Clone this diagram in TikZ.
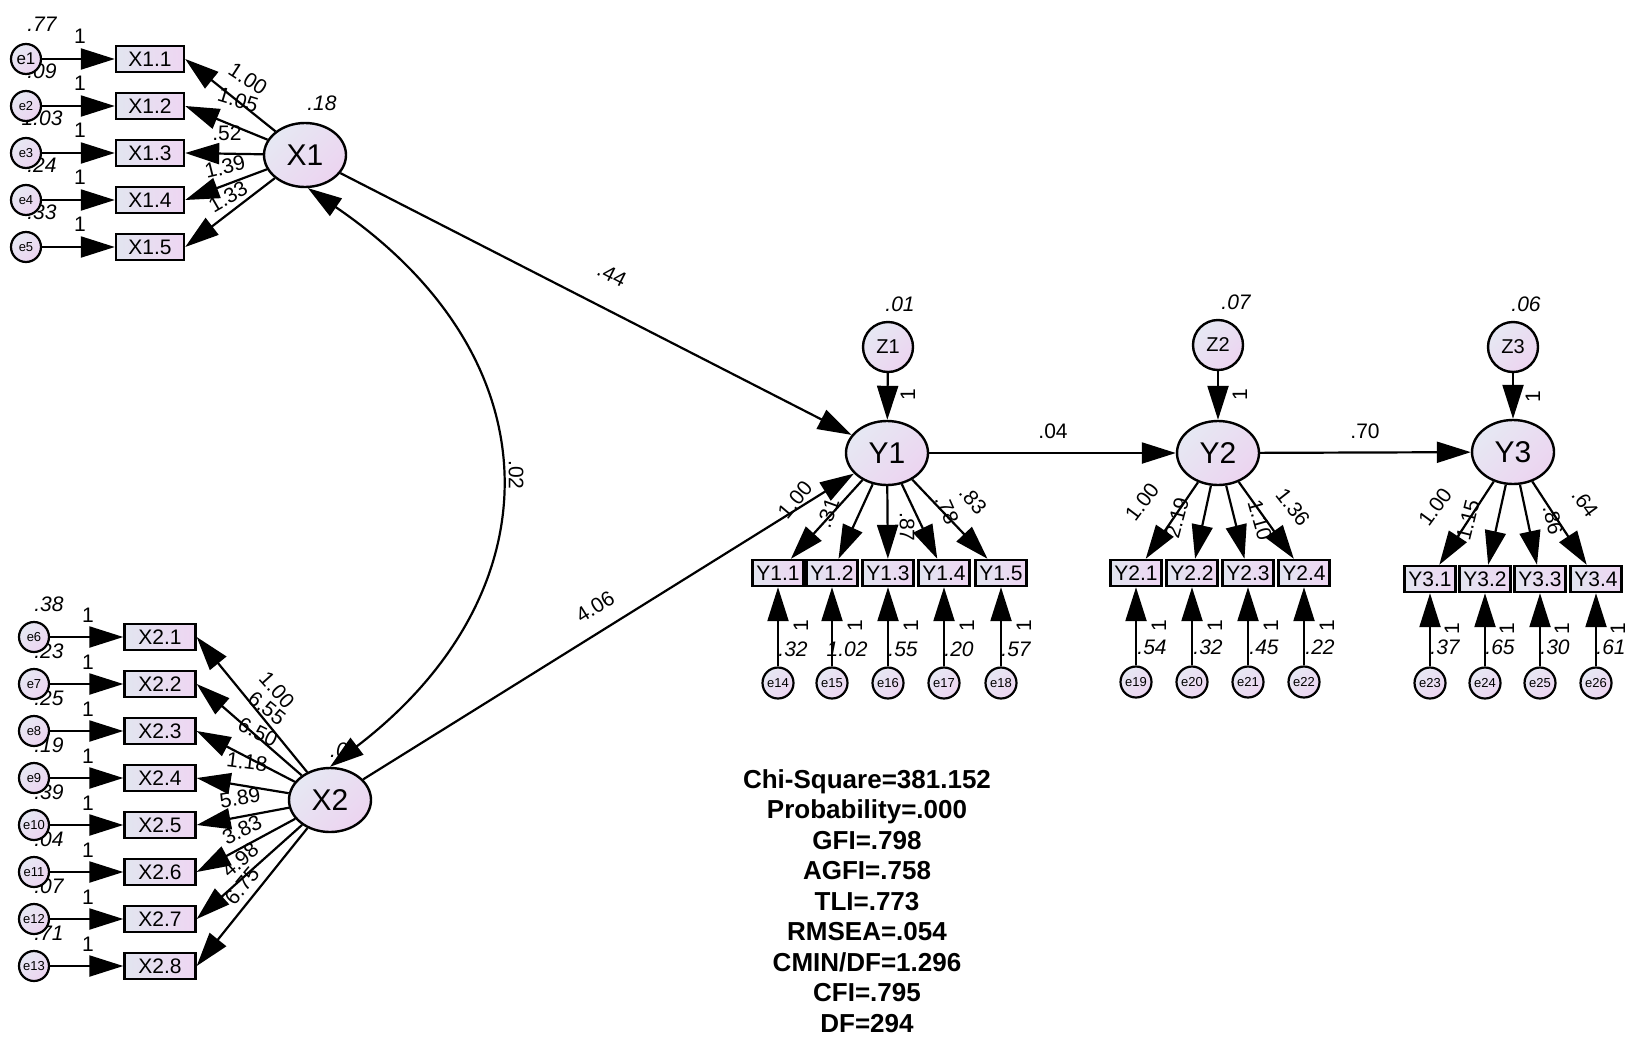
\documentclass[tikz,border=0pt]{standalone}
\usepackage{fontspec}
\setmainfont{Liberation Sans}
\usetikzlibrary{arrows.meta,shapes.geometric}
\definecolor{boxL}{RGB}{226,229,240}
\definecolor{boxR}{RGB}{238,214,242}
\definecolor{latA}{RGB}{230,232,243}
\definecolor{latB}{RGB}{236,212,240}
\newcommand{\fsz}[1]{\fontsize{#1}{#1}\selectfont}
\begin{document}
\begin{tikzpicture}[x=1pt,y=-1pt,
  latfill/.style={top color=latA, bottom color=latB, shading angle=45},
  obsbox/.style={draw, line width=2.4pt, minimum height=26pt, inner sep=0pt,
     left color=boxL, right color=boxR, font=\fsz{21}},
  obsX/.style={obsbox, minimum width=68pt},
  obsY/.style={obsbox, minimum width=51pt},
  latent/.style={ellipse, draw, line width=2.4pt, minimum width=82pt, minimum height=64pt,
     inner sep=0pt, latfill, font=\fsz{30}},
  zcirc/.style={circle, draw, line width=2.4pt, minimum size=50pt, inner sep=0pt, latfill, font=\fsz{20}},
  ecirc/.style={circle, draw, line width=2.2pt, minimum size=30pt, inner sep=0pt, latfill, font=\fsz{13}},
  ecircY/.style={ecirc, minimum size=31pt},
  arr/.style={line width=2.2pt, -{Triangle[length=34pt,width=21pt]}},
  dbl/.style={line width=2.2pt, {Triangle[length=34pt,width=21pt]}-{Triangle[length=34pt,width=21pt]}},
  coef/.style={inner sep=0pt, font=\fsz{21}},
  varlab/.style={inner sep=0pt, font=\fsz{21}\itshape},
  onelab/.style={inner sep=0pt, font=\fsz{21}},
  stats/.style={inner sep=0pt, align=center, font=\fontsize{26}{30.5}\selectfont\bfseries}
]
\fill[white] (0,0) rectangle (1627,1039);
\useasboundingbox (0,0) rectangle (1627,1039);

% ---------- variance labels (drawn first, partly covered) ----------
\foreach \v [count=\k from 0] in {.77,.09,1.03,.24,.33}
  \node[varlab] at (42,{59+47*\k-35}) {\v};
\foreach \v [count=\k from 0] in {.38,.23,.25,.19,.39,.04,.07,.71}
  \node[varlab] at (49,{637+47*\k-33}) {\v};
\node[varlab] at (322,103) {.18};
\node[varlab] at (339,750) {.0};
\node[varlab] at (900,304) {.01};
\node[varlab] at (1236,302) {.07};
\node[varlab] at (1526,304) {.06};

% ---------- latent variables ----------
\node[latent] (X1) at (305,155) {X1};
\node[latent] (X2) at (330,800) {X2};
\node[latent] (Y1) at (887,453) {Y1};
\node[latent] (Y2) at (1218,453) {Y2};
\node[latent] (Y3) at (1513,452) {Y3};
\node[zcirc] (Z1) at (888,347) {Z1};
\node[zcirc] (Z2) at (1218,345) {Z2};
\node[zcirc] (Z3) at (1513,347) {Z3};

% ---------- X1 block ----------
\foreach \i [count=\k from 0] in {1,...,5} {
  \node[obsX] (X1\i) at (150,{59+47*\k}) {X1.\i};
  \node[onelab] at (80,{59+47*\k-23}) {1};
}
\node[ecirc, font=\fsz{17}] (e1) at (26,59) {e1};
\foreach \i [count=\k from 1] in {2,...,5}
  \node[ecirc] (e\i) at (26,{59+47*\k}) {e\i};
\foreach \i in {1,...,5}
  \draw[arr] (e\i) -- (X1\i);
\foreach \i/\lab/\x/\y/\r in {1/1.00/248/79/-33, 2/1.05/238/100/-17, 3/.52/227/133/0,
                              4/1.39/225/167/14, 5/1.33/228/197/30} {
  \draw[arr] (X1) -- (X1\i.east);
  \node[coef, rotate=\r] at (\x,\y) {\lab};
}

% ---------- X2 block ----------
\foreach \i [count=\k from 0] in {1,...,8} {
  \pgfmathtruncatemacro{\en}{\i+5}
  \node[obsX, minimum width=71pt] (X2\i) at (160,{637+47*\k}) {X2.\i};
  \node[ecirc] (e\en) at (34,{637+47*\k}) {e\en};
  \node[onelab] at (88,{637+47*\k-22}) {1};
  \draw[arr] (e\en) -- (X2\i);
}
\foreach \i/\lab/\x/\y/\r in {1/1.00/277/690/-48, 2/6.55/267/708/-38, 3/6.50/258/732/-26,
                              4/1.18/247/762/-7, 5/5.89/240/798/10, 6/3.83/242/830/27,
                              7/4.98/240/860/41, 8/6.75/242/886/50} {
  \draw[arr] (X2) -- (X2\i.east);
  \node[coef, rotate=\r] at (\x,\y) {\lab};
}

% ---------- structural paths ----------
\draw[dbl] (X1.275) .. controls (560,360) and (555,595) .. (X2.90);
\node[coef, rotate=-90] at (516,475) {.02};
\draw[arr] (X1) -- (Y1);
\node[coef, rotate=-27] at (612,275) {.44};
\draw[arr] (X2) -- (Y1);
\node[coef, rotate=32] at (595,607) {4.06};
\draw[arr] (Y1) -- (Y2);
\node[coef] at (1053,431) {.04};
\draw[arr] (Y2) -- (Y3);
\node[coef] at (1365,431) {.70};
\draw[arr] (Z1) -- (Y1);
\node[onelab, rotate=90] at (908,395) {1};
\draw[arr] (Z2) -- (Y2);
\node[onelab, rotate=90] at (1240,395) {1};
\draw[arr] (Z3) -- (Y3);
\node[onelab, rotate=90] at (1533,397) {1};

% ---------- Y1 block ----------
\foreach \i/\x/\e/\v in {1/778/14/.32, 2/832/15/1.02, 3/888/16/.55, 4/944/17/.20, 5/1001/18/.57} {
  \node[varlab] at ({\x+15},649) {\v};
  \node[onelab, rotate=90] at ({\x+23},626) {1};
  \node[obsY] (Y1\i) at (\x,573) {Y1.\i};
  \node[ecircY] (e\e) at (\x,683) {e\e};
  \draw[arr] (e\e) -- (Y1\i);
  \draw[arr] (Y1) -- (Y1\i);
}
\foreach \lab/\x/\y/\r in {1.00/795/500/50, .31/828/513/70, .87/907/527/-90, .78/947/510/-66, .83/973/500/-48}
  \node[coef, rotate=\r] at (\x,\y) {\lab};

% ---------- Y2 block ----------
\foreach \i/\x/\e/\v in {1/1136/19/.54, 2/1192/20/.32, 3/1248/21/.45, 4/1304/22/.22} {
  \node[varlab] at ({\x+16},647) {\v};
  \node[onelab, rotate=90] at ({\x+23},626) {1};
  \node[obsY] (Y2\i) at (\x,573) {Y2.\i};
  \node[ecircY] (e\e) at (\x,682) {e\e};
  \draw[arr] (e\e) -- (Y2\i);
  \draw[arr] (Y2) -- (Y2\i);
}
\foreach \lab/\x/\y/\r in {1.00/1142/502/53, 2.19/1177/518/75, 1.10/1260/520/-74, 1.36/1293/507/-52}
  \node[coef, rotate=\r] at (\x,\y) {\lab};

% ---------- Y3 block ----------
\foreach \i/\x/\e/\v in {1/1430/23/.37, 2/1485/24/.65, 3/1540/25/.30, 4/1596/26/.61} {
  \node[varlab] at ({\x+15},647) {\v};
  \node[onelab, rotate=90] at ({\x+22},629) {1};
  \node[obsY] (Y3\i) at (\x,579) {Y3.\i};
  \node[ecircY] (e\e) at (\x,683) {e\e};
  \draw[arr] (e\e) -- (Y3\i);
  \draw[arr] (Y3) -- (Y3\i);
}
\foreach \lab/\x/\y/\r in {1.00/1435/507/54, 1.15/1468/520/76, .86/1553/520/-77, .64/1585/503/-54}
  \node[coef, rotate=\r] at (\x,\y) {\lab};

% ---------- fit statistics ----------
\node[stats, anchor=north] (fit) at (867,769) {Chi-Square=381.152\\Probability=.000\\GFI=.798\\AGFI=.758\\TLI=.773\\RMSEA=.054\\CMIN/DF=1.296\\CFI=.795\\DF=294};
\end{tikzpicture}
\end{document}
